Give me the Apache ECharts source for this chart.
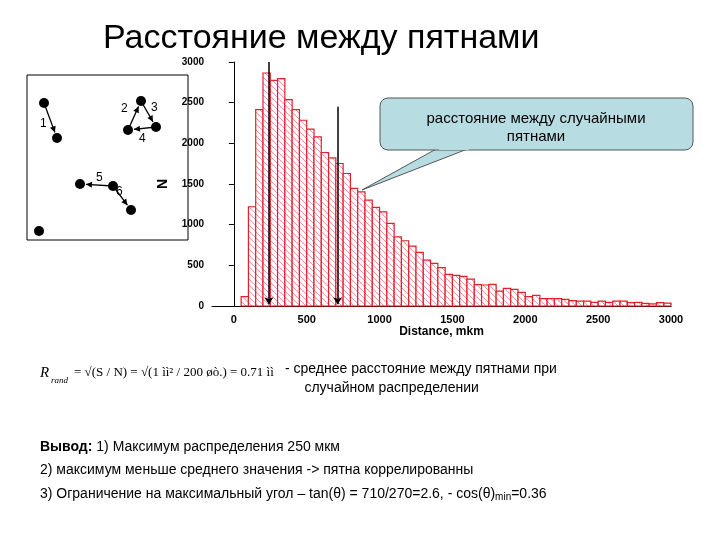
<!DOCTYPE html>
<html><head><meta charset="utf-8">
<script src="https://cdn.jsdelivr.net/npm/echarts@6/dist/echarts.min.js"></script>
<style>html,body{margin:0;background:#fff}#c{width:720px;height:540px}</style>
</head><body><div id="c"></div>
<script>
const binStarts = [50,100,150,200,250,300,350,400,450,500,550,600,650,700,750,800,850,900,950,1000,1050,1100,1150,1200,1250,1300,1350,1400,1450,1500,1550,1600,1650,1700,1750,1800,1850,1900,1950,2000,2050,2100,2150,2200,2250,2300,2350,2400,2450,2500,2550,2600,2650,2700,2750,2800,2850,2900,2950];
const counts = [115,1220,2415,2865,2775,2795,2538,2415,2284,2174,2080,1887,1822,1752,1629,1445,1404,1302,1212,1158,1015,851,802,737,659,565,524,471,389,377,365,330,262,258,266,184,217,205,168,115,131,90,90,90,82,66,61,61,45,61,45,61,61,41,45,33,25,41,35];
const binWidth = 50;
const xTicks = [0,500,1000,1500,2000,2500,3000];
const yTicks = [0,500,1000,1500,2000,2500,3000];
const maxPos = 240, meanPos = 712;

const pc = document.createElement('canvas'); pc.width = 6; pc.height = 6;
const g = pc.getContext('2d'); g.fillStyle = '#fff'; g.fillRect(0,0,6,6);
g.strokeStyle = '#ee8a8a'; g.lineWidth = 0.9;
g.beginPath(); g.moveTo(0,0); g.lineTo(6,6); g.moveTo(-3,3); g.lineTo(3,9); g.moveTo(3,-3); g.lineTo(9,3); g.stroke();

const chart = echarts.init(document.getElementById('c'));
const txt = (x,y,t,o) => ({type:'text',left:x,top:y,style:Object.assign({text:t,fill:'#000',font:'14px Liberation Sans'},o||{})});
const dots = [[44,103],[57,138],[141,101],[128,130],[156,127],[80,184],[113,186],[131,210],[39,231]];
const arrows = [[44,103,57,138],[128,130,141,101],[141,101,156,127],[156,127,128,130],[113,186,80,184],[113,186,131,210]];
const gr = [
  txt(103,22,'Расстояние между пятнами',{font:'34px Liberation Sans'}),
  {type:'rect',shape:{x:27,y:75,width:161,height:165},style:{fill:'#fff',stroke:'#000',lineWidth:1}},
  ...dots.map(d=>({type:'circle',shape:{cx:d[0],cy:d[1],r:5},style:{fill:'#000'}})),
  ...arrows.map(a=>{const ang=Math.atan2(a[3]-a[1],a[2]-a[0]);const ex=a[2]-6*Math.cos(ang),ey=a[3]-6*Math.sin(ang);
    return {type:'group',children:[{type:'line',shape:{x1:a[0],y1:a[1],x2:ex,y2:ey},style:{stroke:'#000',lineWidth:1.3}},
    {type:'polygon',shape:{points:[[ex,ey],[ex-6*Math.cos(ang)+3*Math.sin(ang),ey-6*Math.sin(ang)-3*Math.cos(ang)],[ex-6*Math.cos(ang)-3*Math.sin(ang),ey-6*Math.sin(ang)+3*Math.cos(ang)]]},style:{fill:'#000'}}]};}),
  txt(40,118,'1',{font:'12px Liberation Sans'}),txt(121,103,'2',{font:'12px Liberation Sans'}),
  txt(151,102,'3',{font:'12px Liberation Sans'}),txt(139,133,'4',{font:'12px Liberation Sans'}),
  txt(96,172,'5',{font:'12px Liberation Sans'}),txt(116,186,'6',{font:'12px Liberation Sans'}),
  {type:'polygon',shape:{points:[[438,148],[362,190],[470,148]]},style:{fill:'#b7dde3',stroke:'#555',lineWidth:1}},
  {type:'rect',shape:{x:380,y:98,width:313,height:52,r:8},style:{fill:'#b7dde3',stroke:'#555',lineWidth:1}},
  {type:'rect',shape:{x:439,y:146,width:30,height:4},style:{fill:'#b7dde3'}},
  {type:'text',style:{x:536,y:110,text:'расстояние между случайными\nпятнами',align:'center',font:'15px Liberation Sans',lineHeight:18,fill:'#000'}},
  {type:'text',style:{x:40,y:366,text:'R',font:'italic 15px Liberation Serif',fill:'#000'}},
  txt(51,376,'rand',{font:'italic 9px Liberation Serif'}),
  txt(74,366,'= √(S / N) = √(1 ìì² / 200 øò.) = 0.71 ìì',{font:'13px Liberation Serif'}),
  txt(285,360,'- среднее расстояние между пятнами при\n     случайном распределении',{font:'14px Liberation Sans',lineHeight:19}),
  {type:'text',left:40,top:440,style:{rich:{b:{font:'bold 14px Liberation Sans'},n:{font:'14px Liberation Sans'}},text:'{b|Вывод:}{n| 1) Максимум распределения 250 мкм}',fill:'#000'}},
  txt(40,463,'2) максимум меньше среднего значения -> пятна коррелированны'),
  {type:'text',left:40,top:487,style:{rich:{n:{font:'14px Liberation Sans'},s:{font:'10px Liberation Sans',verticalAlign:'bottom',padding:[6,0,0,0]}},text:'{n|3) Ограничение на максимальный угол – tan(θ) = 710/270=2.6, - cos(θ)}{s|min}{n|=0.36}',fill:'#000'}}
];
chart.setOption({
  animation:false,
  grid:{left:212,top:62,width:459,height:244},
  xAxis:{type:'value',min:-150,max:3000,interval:50,
    axisLine:{lineStyle:{color:'#000'}},axisTick:{show:false},splitLine:{show:false},
    axisLabel:{color:'#000',fontSize:11,fontWeight:'bold',fontFamily:'Liberation Sans',interval:0,hideOverlap:false,showMinLabel:true,showMaxLabel:true,formatter:v=>xTicks.includes(v)?String(v):''},
    name:'Distance, mkm',nameLocation:'middle',nameGap:18,nameTextStyle:{color:'#000',fontSize:12,fontWeight:'bold',fontFamily:'Liberation Sans'}},
  yAxis:{type:'value',min:0,max:3000,interval:500,
    axisLine:{show:true,lineStyle:{color:'#000'}},axisTick:{show:true,lineStyle:{color:'#000'}},splitLine:{show:false},
    axisLabel:{color:'#000',fontSize:10,fontWeight:'bold',fontFamily:'Liberation Sans',formatter:v=>yTicks.includes(v)?String(v):''},
    name:'N',nameLocation:'middle',nameGap:42,nameTextStyle:{color:'#000',fontSize:14,fontWeight:'bold'}},
  graphic:gr,
  series:[{type:'custom',
    data:binStarts.map((s,i)=>[s,counts[i]]),
    renderItem:(p,api)=>{const a=api.coord([api.value(0),api.value(1)]);const b=api.coord([api.value(0)+binWidth,0]);
      return {type:'rect',shape:{x:a[0],y:a[1],width:b[0]-a[0],height:b[1]-a[1]},
        style:{fill:{image:pc,repeat:'repeat'},stroke:'#e0202a',lineWidth:1.2}};},
    markLine:{silent:true,symbol:['none','arrow'],symbolSize:7,label:{show:false},lineStyle:{color:'#000',width:1.5,type:'solid'},
      data:[[{coord:[maxPos,3000]},{coord:[maxPos,20]}],[{coord:[meanPos,2450]},{coord:[meanPos,20]}]]}
  }]
});
</script></body></html>
